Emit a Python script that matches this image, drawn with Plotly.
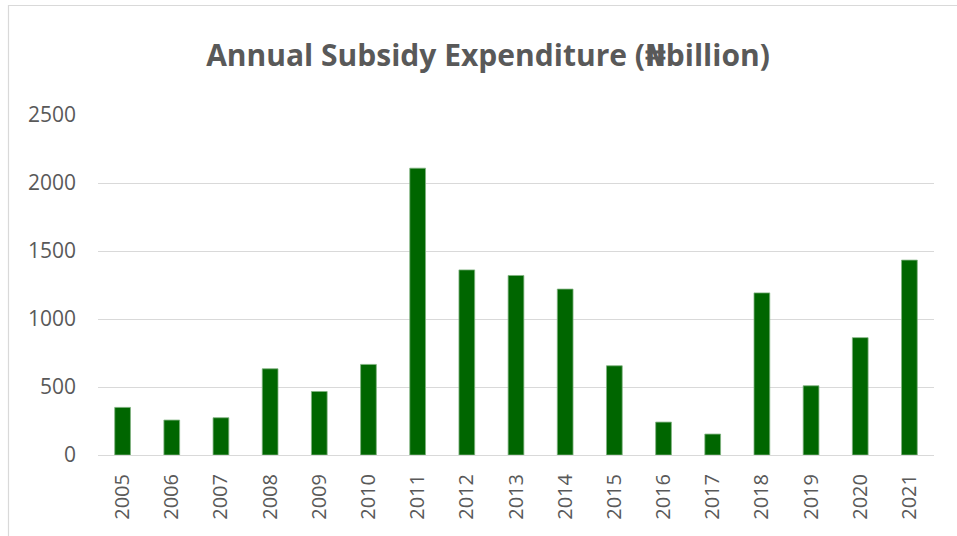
import plotly.graph_objects as go

# Annual subsidy expenditure, billions of naira
years = ["2005", "2006", "2007", "2008", "2009", "2010", "2011", "2012", "2013",
         "2014", "2015", "2016", "2017", "2018", "2019", "2020", "2021"]
expenditure = [350, 257, 274, 634, 467, 666, 2109, 1361, 1320,
               1220, 656, 242, 154, 1192, 509, 863, 1433]

y_ticks = [0, 500, 1000, 1500, 2000, 2500]

W, H = 957, 536
ML, MR, MT, MB = 98, 23, 115, 81
pw, ph = W - ML - MR, H - MT - MB

fig = go.Figure(
    go.Bar(
        x=years,
        y=expenditure,
        marker=dict(color="#006600", line=dict(color="#80b380", width=0.8)),
        hoverinfo="x+y",
    )
)

# light frame around the chart area
fig.add_shape(
    type="rect", xref="paper", yref="paper",
    x0=(8.5 - ML) / pw, x1=1.1,
    y0=-0.4, y1=(H - MB - 5.5) / ph,
    line=dict(color="#d9d9d9", width=1.2), fillcolor="rgba(0,0,0,0)", layer="below",
)

title_text = ("<b>Annual Subsidy Expenditure ("
              "<span style='font-family:DejaVu Sans'>₦</span>billion)</b>")

fig.update_layout(
    width=W, height=H,
    margin=dict(l=ML, r=MR, t=MT, b=MB),
    paper_bgcolor="white", plot_bgcolor="white",
    bargap=0.68,
    showlegend=False,
    title=dict(
        text=title_text,
        x=488 / W, xanchor="center",
        y=1 - 55 / H, yanchor="middle", yref="container",
        font=dict(family="Open Sans", size=30, color="#595959"),
    ),
    font=dict(family="Open Sans", color="#595959"),
)

fig.update_yaxes(
    range=[0, 2500], tickvals=y_ticks,
    showgrid=True, gridcolor="#d9d9d9", gridwidth=1.3,
    zeroline=True, zerolinecolor="#d9d9d9", zerolinewidth=1.3,
    showline=False, ticks="",
    ticklabelstandoff=21,
    tickfont=dict(family="Open Sans", size=21, color="#595959"),
)
fig.update_xaxes(
    showgrid=False, showline=False, ticks="",
    tickangle=-90, ticklabelstandoff=14,
    tickfont=dict(family="Open Sans", size=20, color="#595959"),
)

fig.write_html("out.html")
